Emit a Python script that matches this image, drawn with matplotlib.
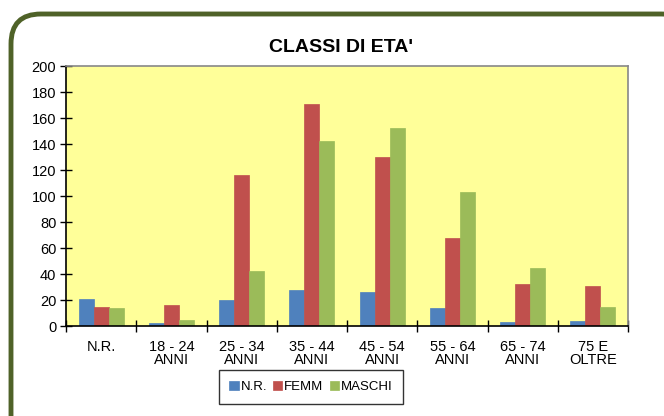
import numpy as np
import matplotlib.pyplot as plt
from matplotlib.patches import FancyBboxPatch

plt.rcParams['font.family'] = ['Liberation Sans', 'DejaVu Sans']

categorie = ["N.R.", "18 - 24\nANNI", "25 - 34\nANNI", "35 - 44\nANNI",
             "45 - 54\nANNI", "55 - 64\nANNI", "65 - 74\nANNI", "75 E\nOLTRE"]
nr = [21, 2, 20, 28, 26, 14, 3, 4]
femm = [15, 16, 116, 171, 130, 68, 32, 31]
maschi = [14, 5, 42, 142, 152, 103, 45, 15]
serie = ["N.R.", "FEMM", "MASCHI"]
colori = ["#4F81BD", "#C0504D", "#9BBB59"]

W, H = 664, 416
fig = plt.figure(figsize=(W / 100, H / 100), dpi=100)

# cornice arrotondata
frame = FancyBboxPatch((11 / W, -30 / H), 680 / W, 432 / H,
                       boxstyle="round,pad=0,rounding_size=0.045",
                       transform=fig.transFigure, facecolor="white",
                       edgecolor="#4F6228", linewidth=3.5, mutation_aspect=W / H,
                       zorder=-10)
fig.patches.append(frame)

ax = fig.add_axes([66 / W, 1 - 326 / H, (628 - 66) / W, (326 - 66) / H])
ax.set_facecolor("#FFFF99")

x = np.arange(len(categorie))
bw = 0.214
for i, (vals, nome, col) in enumerate(zip([nr, femm, maschi], serie, colori)):
    ax.bar(x + (i - 1) * bw, vals, bw, color=col, label=nome,
           edgecolor=col, linewidth=0.5)

ax.set_xlim(-0.5, len(categorie) - 0.5)
ax.set_ylim(0, 200)
ax.set_yticks(np.arange(0, 201, 20))
ax.set_xticks(x)
ax.set_xticklabels(categorie, fontsize=10.5, linespacing=0.95)
ax.set_xticks(np.arange(-0.5, len(categorie)), minor=True)
ax.tick_params(axis='x', which='major', length=0, pad=10)
ax.tick_params(axis='x', which='minor', length=8, direction='inout', width=1)
ax.tick_params(axis='y', length=8, direction='inout', width=1, labelsize=10.5, pad=3)

for s in ["left", "bottom"]:
    ax.spines[s].set_color("black")
    ax.spines[s].set_linewidth(1.2)
for s in ["top", "right"]:
    ax.spines[s].set_color("#888888")
    ax.spines[s].set_linewidth(1.2)

fig.text(341 / W, 1 - 47 / H, "CLASSI DI ETA'", ha="center", va="center",
         fontsize=14, fontweight="bold")

leg = fig.legend(loc="center", bbox_to_anchor=(311 / W, 1 - 387 / H), ncol=3,
                 fontsize=9.5, frameon=True, fancybox=False, edgecolor="black",
                 handlelength=0.7, handleheight=0.7, handletextpad=0.15,
                 columnspacing=0.45, borderpad=0.8)
leg.get_frame().set_linewidth(1)

fig.savefig("out.png", dpi=100)
